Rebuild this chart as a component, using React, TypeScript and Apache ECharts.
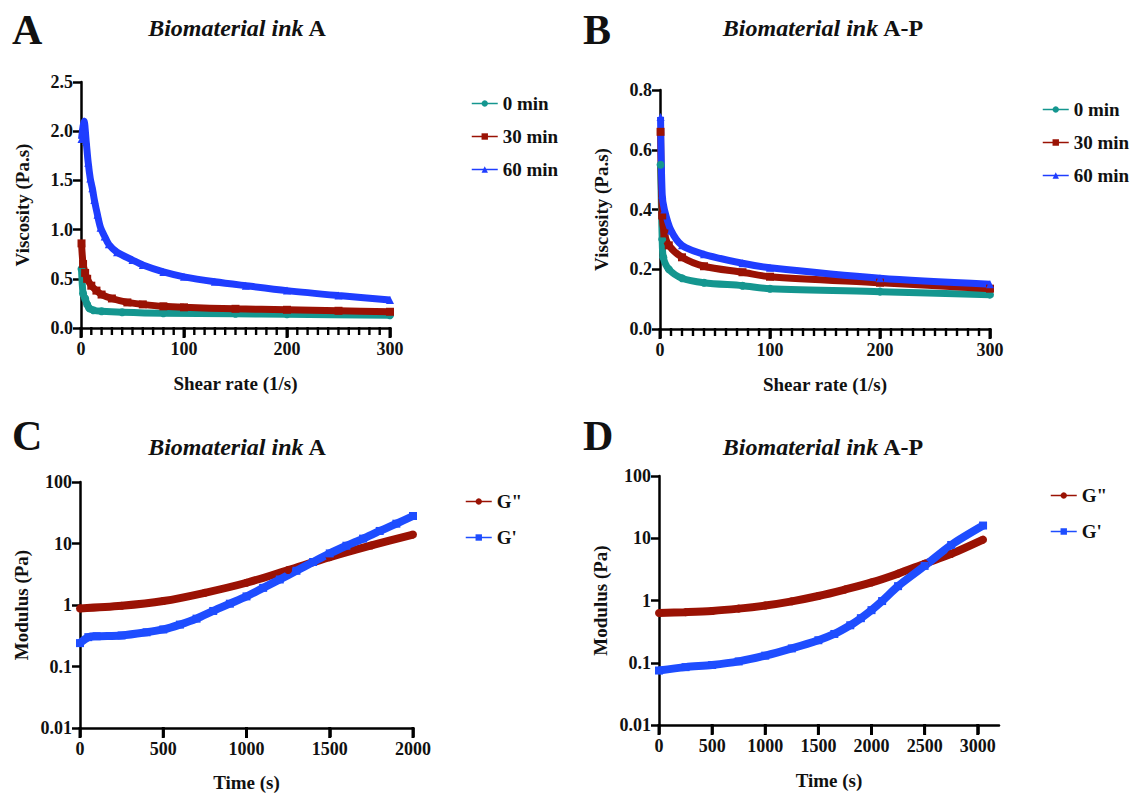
import React, { useEffect, useRef } from "react";
import * as echarts from "echarts";

// Panel A – Biomaterial ink A viscosity (Pa.s) vs shear rate (1/s)
const aRate0 = [0.5, 2, 4, 6, 8, 12, 20, 40, 80, 150, 200, 300];
const aVisc0 = [0.6, 0.35, 0.3, 0.24, 0.2, 0.18, 0.17, 0.16, 0.15, 0.145, 0.14, 0.13];
const aRate30 = [0.5, 2, 4, 6, 10, 15, 20, 30, 45, 60, 80, 100, 150, 200, 250, 300];
const aVisc30 = [0.86, 0.65, 0.56, 0.5, 0.43, 0.38, 0.34, 0.3, 0.26, 0.24, 0.22, 0.21, 0.195, 0.185, 0.175, 0.165];
const aRate60 = [0.5, 2, 3, 5, 7, 9, 11, 13, 16, 19, 23, 27, 35, 50, 60, 80, 100, 130, 160, 200, 250, 300];
const aVisc60 = [1.92, 2.05, 2.1, 1.9, 1.68, 1.52, 1.42, 1.3, 1.15, 1.02, 0.93, 0.85, 0.77, 0.69, 0.64, 0.57, 0.52, 0.47, 0.43, 0.38, 0.33, 0.285];

// Panel B – Biomaterial ink A-P viscosity
const bRate0 = [0.5, 2, 3, 8, 20, 40, 75, 100, 200, 300];
const bVisc0 = [0.55, 0.3, 0.24, 0.2, 0.17, 0.155, 0.145, 0.135, 0.125, 0.115];
const bRate30 = [0.5, 2, 4, 8, 20, 40, 75, 100, 200, 300];
const bVisc30 = [0.66, 0.38, 0.32, 0.28, 0.24, 0.21, 0.19, 0.175, 0.155, 0.135];
const bRate60 = [0.5, 2, 4, 10, 20, 40, 75, 100, 200, 300];
const bVisc60 = [0.71, 0.45, 0.4, 0.33, 0.28, 0.25, 0.22, 0.205, 0.17, 0.15];

// Panel C – Biomaterial ink A modulus (Pa) vs time (s)
const cTimeG2 = [0, 250, 500, 750, 1000, 1250, 1500, 1750, 2000];
const cG2 = [0.88, 0.97, 1.16, 1.58, 2.3, 3.7, 6.0, 9.3, 14];
const cTimeG1 = [0, 50, 100, 250, 400, 500, 600, 700, 800, 900, 1000, 1100, 1200, 1300, 1400, 1500, 1600, 1700, 1800, 1900, 2000];
const cG1 = [0.24, 0.3, 0.31, 0.32, 0.36, 0.4, 0.48, 0.6, 0.8, 1.05, 1.38, 1.9, 2.6, 3.6, 5.0, 6.9, 9.2, 12, 16, 21, 28];

// Panel D – Biomaterial ink A-P modulus
const dTimeG2 = [0, 250, 500, 750, 1000, 1250, 1500, 1750, 2000, 2250, 2500, 2750, 3050];
const dG2 = [0.63, 0.65, 0.68, 0.74, 0.83, 0.97, 1.18, 1.5, 1.95, 2.7, 3.9, 5.6, 9.5];
const dTimeG1 = [0, 250, 500, 750, 1000, 1250, 1500, 1650, 1800, 1900, 2000, 2100, 2250, 2500, 2750, 3050];
const dG1 = [0.075, 0.085, 0.092, 0.105, 0.13, 0.17, 0.23, 0.29, 0.4, 0.52, 0.7, 0.98, 1.7, 3.6, 7.8, 16];

const viscLabels = ["0 min", "30 min", "60 min"];
const modLabels = ['G"', "G'"];
const logTickLabels: Record<string, string> = { "0.01": "0.01", "0.1": "0.1", "1": "1", "10": "10", "100": "100" };
const timeTicksC = [0, 500, 1000, 1500, 2000];
const timeTicksD = [0, 500, 1000, 1500, 2000, 2500, 3000];
const shearMajorTicks = [0, 100, 200, 300];
// minor ticks of the shear-rate axes (every 10 1/s between the labelled hundreds)
const shearMinorTicks = [
  10, 20, 30, 40, 50, 60, 70, 80, 90,
  110, 120, 130, 140, 150, 160, 170, 180, 190,
  210, 220, 230, 240, 250, 260, 270, 280, 290,
];

const TEAL = "#14968f";
const RED = "#9a1204";
const BLUE = "#1f3dff";
const BLUE2 = "#1e4dff";
const INK = "#000";
const FONT = "Liberation Serif";

const zip = (xs: number[], ys: number[]) => xs.map((x, i) => [x, ys[i]]);

export default function App() {
  const ref = useRef<HTMLDivElement>(null);
  useEffect(() => {
    if (!ref.current) return;
    const chart = echarts.init(ref.current, undefined, { renderer: "svg" });

    const tickLabel = { fontFamily: FONT, fontWeight: "bold" as const, fontSize: 18, color: "#111" };
    const axisLine = { lineStyle: { color: INK, width: 2.5 } };
    const tickStyle = { color: INK, width: 2.5 };
    const nameStyle = { fontFamily: FONT, fontWeight: "bold" as const, fontSize: 19, color: "#111" };

    const grids = [
      { left: 81, top: 82, width: 309, height: 246 },
      { left: 660, top: 90, width: 330, height: 239 },
      { left: 80, top: 482, width: 333, height: 246 },
      { left: 659, top: 476, width: 340, height: 249 },
    ];

    const linearX = (idx: number) => ({
      type: "value",
      gridIndex: idx,
      min: 0,
      max: 300,
      interval: 100,
      name: "Shear rate (1/s)",
      nameLocation: "middle",
      nameGap: 46,
      nameTextStyle: nameStyle,
      axisLine: { ...axisLine, show: true, onZero: false },
      axisTick: { show: true, inside: false, length: 9, lineStyle: tickStyle },
      axisLabel: { ...tickLabel, margin: 12 },
      splitLine: { show: false },
    });

    const timeX = (idx: number, max: number, gap: number, ticks: number[]) => ({
      type: "value",
      gridIndex: idx,
      min: 0,
      max,
      interval: 500,
      name: "Time (s)",
      nameLocation: "middle",
      nameGap: gap,
      nameTextStyle: nameStyle,
      axisLine: { ...axisLine, show: true, onZero: false },
      axisTick: { show: true, inside: false, length: 9, lineStyle: tickStyle, customValues: ticks },
      axisLabel: { ...tickLabel, margin: 12, customValues: ticks, formatter: (v: number) => String(v) },
      splitLine: { show: false },
    });

    const linY = (idx: number, max: number, interval: number, digits: number) => ({
      type: "value",
      gridIndex: idx,
      min: 0,
      max,
      interval,
      name: "Viscosity (Pa.s)",
      nameLocation: "middle",
      nameGap: 49,
      nameTextStyle: nameStyle,
      axisLine: { ...axisLine, show: true },
      axisTick: { show: true, length: 8, lineStyle: tickStyle },
      axisLabel: { ...tickLabel, margin: 8, formatter: (v: number) => v.toFixed(digits) },
      splitLine: { show: false },
    });

    const logY = (idx: number) => ({
      type: "log",
      logBase: 10,
      gridIndex: idx,
      min: 0.01,
      max: 100,
      name: "Modulus (Pa)",
      nameLocation: "middle",
      nameGap: 49,
      nameTextStyle: nameStyle,
      axisLine: { ...axisLine, show: true },
      axisTick: { show: true, length: 8, lineStyle: tickStyle },
      axisLabel: {
        ...tickLabel,
        margin: 8,
        formatter: (v: number) => logTickLabels[String(+v.toPrecision(6))] ?? String(v),
      },
      splitLine: { show: false },
      minorTick: { show: false },
    });

    const lineSeries = (name: string, data: number[][], color: string, symbol: string, idx: number, width: number, symSize: number) => ({
      type: "line",
      name,
      data,
      xAxisIndex: idx,
      yAxisIndex: idx,
      symbol,
      symbolSize: symSize,
      showSymbol: true,
      smooth: 0.3,
      lineStyle: { color, width },
      itemStyle: { color },
      legendHoverLink: false,
    });

    const legend = (left: number, top: number, names: string[], gap: number) => ({
      show: true,
      orient: "vertical",
      left,
      top,
      itemWidth: 26,
      itemHeight: 8,
      itemGap: gap,
      data: names,
      formatter: (n: string) => n.trim(),
      textStyle: { fontFamily: FONT, fontWeight: "bold", fontSize: 19, color: "#111" },
      lineStyle: { width: 1.5 },
      selectedMode: false,
    });

    const title = (left: number, top: number, suffix: string) => ({
      left,
      top,
      textAlign: "center",
      text: `{i|Biomaterial ink} {b|${suffix}}`,
      textStyle: {
        rich: {
          i: { fontFamily: FONT, fontStyle: "italic", fontWeight: "bold", fontSize: 24, color: "#111" },
          b: { fontFamily: FONT, fontWeight: "bold", fontSize: 24, color: "#111" },
        },
      },
    });

    const letter = (left: number, top: number, t: string) => ({
      left,
      top,
      text: t,
      textStyle: { fontFamily: FONT, fontWeight: "bold", fontSize: 42, color: "#111" },
    });

    chart.setOption({
      animation: false,
      backgroundColor: "#fff",
      title: [
        letter(7, 4, "A"),
        letter(578, 4, "B"),
        letter(7, 410, "C"),
        letter(578, 410, "D"),
        title(232, 11, "A"),
        title(818, 11, "A-P"),
        title(232, 430, "A"),
        title(818, 430, "A-P"),
      ],
      legend: [
        legend(466, 89, viscLabels, 14),
        legend(1037, 95, viscLabels.map((n) => n + " "), 14),
        legend(460, 487, modLabels, 17),
        legend(1045, 481, modLabels.map((n) => n + " "), 17),
      ],
      grid: grids,
      xAxis: [linearX(0), linearX(1), timeX(2, 2000, 45, timeTicksC), timeX(3, 3200, 46, timeTicksD)],
      yAxis: [linY(0, 2.5, 0.5, 1), linY(1, 0.8, 0.2, 1), logY(2), logY(3)],
      series: [
        lineSeries(viscLabels[0], zip(aRate0, aVisc0), TEAL, "circle", 0, 7, 8),
        lineSeries(viscLabels[1], zip(aRate30, aVisc30), RED, "rect", 0, 7, 8),
        lineSeries(viscLabels[2], zip(aRate60, aVisc60), BLUE, "triangle", 0, 7, 8),
        lineSeries(viscLabels[0] + " ", zip(bRate0, bVisc0), TEAL, "circle", 1, 7, 8),
        lineSeries(viscLabels[1] + " ", zip(bRate30, bVisc30), RED, "rect", 1, 7, 8),
        lineSeries(viscLabels[2] + " ", zip(bRate60, bVisc60), BLUE, "triangle", 1, 7, 8),
        lineSeries(modLabels[0], zip(cTimeG2, cG2), RED, "circle", 2, 8, 8),
        lineSeries(modLabels[1], zip(cTimeG1, cG1), BLUE2, "rect", 2, 8, 8),
        lineSeries(modLabels[0] + " ", zip(dTimeG2, dG2), RED, "circle", 3, 8, 8),
        lineSeries(modLabels[1] + " ", zip(dTimeG1, dG1), BLUE2, "rect", 3, 8, 8),
      ],
    });

    // x-axis tick marks (small filled bars) placed through each grid's own scales
    const yMins = [0, 0, 0.01, 0.01];
    const tickSets: { idx: number; values: number[]; len: number; w: number }[] = [
      { idx: 0, values: shearMajorTicks, len: 10, w: 3 },
      { idx: 0, values: shearMinorTicks, len: 7, w: 2.4 },
      { idx: 1, values: shearMajorTicks, len: 10, w: 3 },
      { idx: 1, values: shearMinorTicks, len: 7, w: 2.4 },
      { idx: 2, values: timeTicksC, len: 10, w: 3 },
      { idx: 3, values: timeTicksD, len: 10, w: 3 },
    ];
    const elements: any[] = [];
    tickSets.forEach(({ idx, values, len, w }) => {
      values.forEach((v) => {
        const p: any = chart.convertToPixel({ gridIndex: idx }, [v, yMins[idx]]);
        const x = Array.isArray(p) ? Number(p[0]) : NaN;
        const y0 = Array.isArray(p) ? Number(p[1]) : NaN;
        if (!isFinite(x) || !isFinite(y0)) return;
        elements.push({
          type: "rect",
          z: 100,
          silent: true,
          shape: { x: x - w / 2, y: y0 - 1, width: w, height: len + 1 },
          style: { fill: INK },
        });
      });
    });
    if (elements.length) chart.setOption({ graphic: { elements } });

    return () => chart.dispose();
  }, []);

  return <div ref={ref} style={{ position: "fixed", left: 0, top: 0, width: 1130, height: 794, background: "#fff" }} />;
}
